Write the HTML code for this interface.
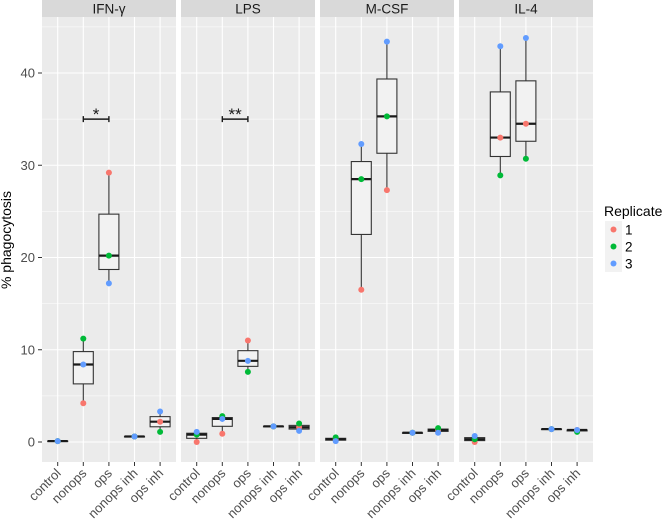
<!DOCTYPE html>
<html><head><meta charset="utf-8"><style>body{margin:0;background:#fff}svg{display:block;font-family:"Liberation Sans",sans-serif}</style></head>
<body>
<svg id="c" width="662" height="529"></svg>
<script>
const panels = ["IFN-γ","LPS","M-CSF","IL-4"];
const categories = ["control","nonops","ops","nonops inh","ops inh"];
const yTicks = [0,10,20,30,40];
const replicates = ["1","2","3"];
const ifnValues = [[0.1,0.1,0.1],[4.2,11.2,8.4],[29.2,20.2,17.2],[0.6,0.6,0.6],[2.2,1.1,3.3]];
const lpsValues = [[0.0,0.8,1.1],[0.9,2.8,2.5],[11.0,7.6,8.8],[1.7,1.7,1.7],[1.6,2.0,1.2]];
const mcsfValues = [[0.3,0.5,0.1],[16.5,28.5,32.3],[27.3,35.3,43.4],[1.0,1.0,1.0],[1.3,1.5,1.0]];
const il4Values = [[0.0,0.3,0.65],[33.0,28.9,42.9],[34.5,30.7,43.8],[1.4,1.4,1.4],[1.3,1.1,1.3]];
const sigPanels = [0,1];
const sigLabels = ["*","**"];
const sigY = [35,35];
const allValues = [ifnValues,lpsValues,mcsfValues,il4Values];
const colors = ["#F8766D","#00BA38","#619CFF"];

const NS="http://www.w3.org/2000/svg";
const svg=document.getElementById('c');
function mk(tag,attrs,parent){const e=document.createElementNS(NS,tag);for(const k in attrs)e.setAttribute(k,attrs[k]);(parent||svg).appendChild(e);return e;}
const ptop=17,pbot=462,pw=134,pstep=139,px0=42;
const y=v=>442-v*9.225;
const xc=(p,i)=>px0+p*pstep+15.7+i*25.6;
function q(a,p){const s=[...a].sort((m,n)=>m-n);const h=(s.length-1)*p;const l=Math.floor(h);return s[l]+(s[Math.min(l+1,s.length-1)]-s[l])*(h-l);}

panels.forEach((name,p)=>{
  const x0=px0+p*pstep;
  const g=mk('g',{});
  
  
  const bg=mk('rect',{x:x0,y:ptop,width:pw,height:pbot-ptop,fill:'#ebebeb'},g);
  
  
  [5,15,25,35,45].forEach(v=>mk('line',{x1:x0,x2:x0+pw,y1:y(v),y2:y(v),stroke:'#fff','stroke-width':0.5},g));
  yTicks.forEach(v=>mk('line',{x1:x0,x2:x0+pw,y1:y(v),y2:y(v),stroke:'#fff','stroke-width':1.1},g));
  categories.forEach((c,i)=>mk('line',{x1:xc(p,i),x2:xc(p,i),y1:ptop,y2:pbot,stroke:'#fff','stroke-width':1.1},g));
  const st=mk('rect',{x:x0,y:0,width:pw,height:ptop,fill:'#d9d9d9'},g);
  
  
  const t=mk('text',{x:x0+pw/2,y:13.5,'text-anchor':'middle','font-size':13.5,fill:'#1a1a1a'},g);
  t.textContent=name;
  
  
  categories.forEach((c,i)=>{
    const vals=allValues[p][i];
    const cx=xc(p,i);
    const q1=q(vals,0.25),md=q(vals,0.5),q3=q(vals,0.75),mn=Math.min(...vals),mx=Math.max(...vals);
    const bg2=mk('g',{},g);
    
    
    mk('line',{x1:cx,x2:cx,y1:y(mx),y2:y(q3),stroke:'#333','stroke-width':1.1},bg2);
    mk('line',{x1:cx,x2:cx,y1:y(q1),y2:y(mn),stroke:'#333','stroke-width':1.1},bg2);
    mk('rect',{x:cx-10,y:y(q3),width:20,height:Math.max(y(q1)-y(q3),0.5),fill:'#f2f2f2',stroke:'#333','stroke-width':1.1},bg2);
    mk('line',{x1:cx-10,x2:cx+10,y1:y(md),y2:y(md),stroke:'#1a1a1a','stroke-width':2.2},bg2);
    vals.forEach((v,r)=>{
      const pt=mk('circle',{cx:cx,cy:y(v),r:3,fill:colors[r]},bg2);
      
      
    });
    mk('line',{x1:cx,x2:cx,y1:pbot,y2:pbot+4,stroke:'#333','stroke-width':1},g);
    const lt=mk('text',{x:cx+4,y:pbot+12,'text-anchor':'end','font-size':13,fill:'#4d4d4d',transform:`rotate(-45 ${cx+4} ${pbot+12})`},g);
    lt.textContent=c;
    
    
  });
  const si=sigPanels.indexOf(p);
  if(si>=0){
    const a=xc(p,1),b=xc(p,2),yy=y(sigY[si]);
    const sg=mk('g',{stroke:'#1a1a1a','stroke-width':1.4},g);
    
    
    mk('line',{x1:a,x2:b,y1:yy,y2:yy},sg);
    mk('line',{x1:a,x2:a,y1:yy-3,y2:yy+3},sg);
    mk('line',{x1:b,x2:b,y1:yy-3,y2:yy+3},sg);
    const s=mk('text',{x:(a+b)/2,y:yy+1,'text-anchor':'middle','font-size':17,fill:'#1a1a1a'},g);
    s.textContent=sigLabels[si];
    
    
  }
});
yTicks.forEach(v=>{
  mk('line',{x1:38,x2:42,y1:y(v),y2:y(v),stroke:'#333','stroke-width':1});
  const t=mk('text',{x:35,y:y(v)+4.5,'text-anchor':'end','font-size':13,fill:'#4d4d4d'});
  t.textContent=v;
  
  
});
const yt=mk('text',{x:11,y:240,'text-anchor':'middle','font-size':14,fill:'#000',transform:'rotate(-90 11 240)'});
yt.textContent='% phagocytosis';


const lg=mk('g',{});


const ltt=mk('text',{x:604,y:216,'font-size':14,fill:'#000'},lg);
ltt.textContent='Replicate';
replicates.forEach((r,i)=>{
  const yy=221+i*17;
  const e=mk('g',{},lg);
  
  
  mk('rect',{x:605,y:yy,width:17,height:17,fill:'#f2f2f2'},e);
  mk('circle',{cx:613.5,cy:yy+8.5,r:3,fill:colors[i]},e);
  const t=mk('text',{x:625,y:yy+13.5,'font-size':13.5,fill:'#000'},e);
  t.textContent=r;
});
</script>
</body></html>
